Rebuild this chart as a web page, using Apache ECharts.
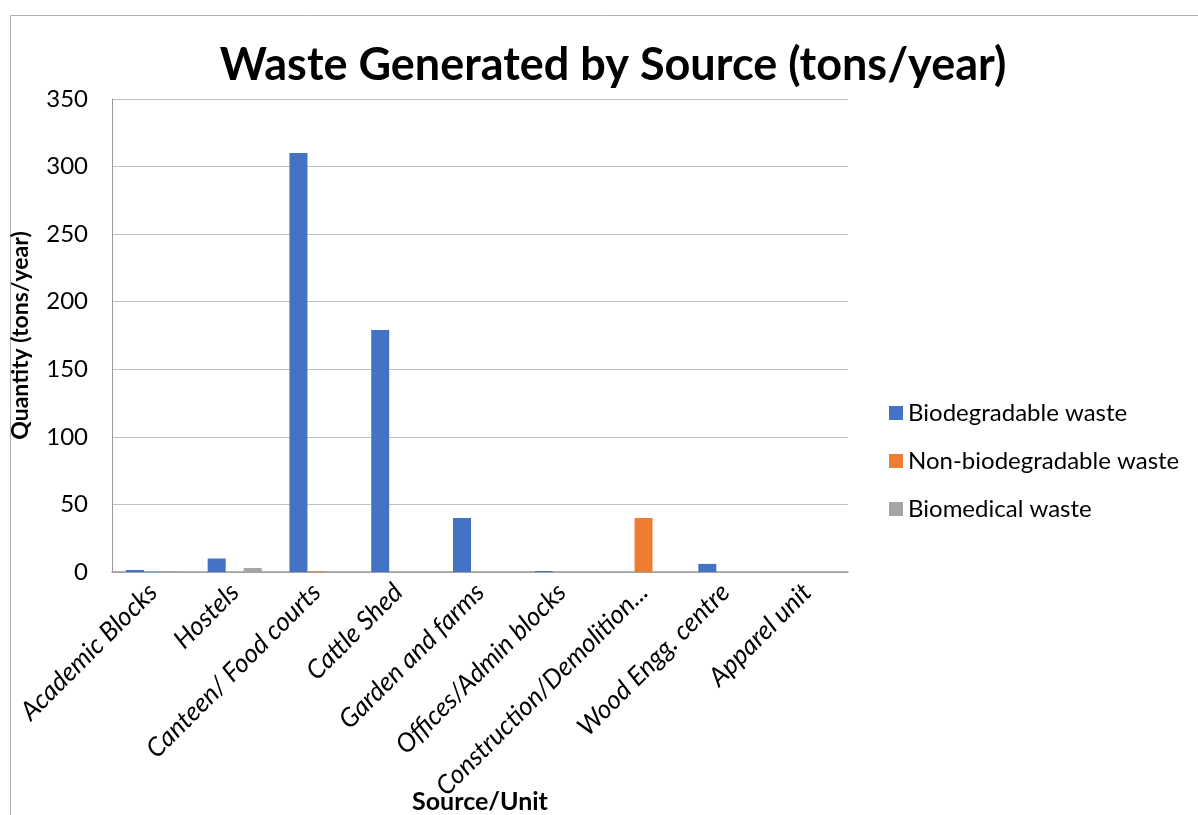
<!DOCTYPE html>
<html><head><meta charset="utf-8">
<script src="https://cdn.jsdelivr.net/npm/echarts@6/dist/echarts.min.js"></script>
<style>html,body{margin:0;padding:0;background:#fff}#c{width:1198px;height:815px}</style>
</head><body><div id="c"></div>
<script>
const categories = ["Academic Blocks","Hostels","Canteen/ Food courts","Cattle Shed","Garden and farms","Offices/Admin blocks","Construction/Demolition...","Wood Engg. centre","Apparel unit"];
const biodegradable = [1.5, 10, 310, 179, 40, 0.7, 0, 6, 0];
const nonBiodegradable = [0.5, 0, 0.5, 0, 0, 0, 40, 0, 0];
const biomedical = [0.5, 3, 0, 0, 0, 0, 0, 0, 0];
const yTicks = [0, 50, 100, 150, 200, 250, 300, 350];

const font = "Lato, 'Open Sans', sans-serif";
const chart = echarts.init(document.getElementById('c'));
chart.setOption({
  animation: false,
  graphic: [{type:'polyline', shape:{points:[[10.5,815],[10.5,15.5],[1198,15.5]]}, style:{stroke:'#b0b0b0', lineWidth:1, fill:null}}],
  title: {text: 'Waste Generated by Source (tons/year)', left: 608, top: 38, textAlign: 'center',
    textStyle: {fontFamily: font, fontWeight: 'bold', fontSize: 45, color: '#000'}},
  legend: {orient: 'vertical', left: 884, top: 396, itemGap: 24, itemWidth: 14, itemHeight: 14,
    icon: 'rect', textStyle: {fontFamily: font, fontSize: 24, color: '#000'},
    data: ['Biodegradable waste','Non-biodegradable waste','Biomedical waste']},
  grid: {left: 112, right: 350, top: 99, bottom: 243, containLabel: false, outerBoundsMode: 'none'},
  xAxis: {type: 'category', data: categories,
    name: 'Source/Unit', nameLocation: 'middle', nameGap: 217, nameMoveOverlap: false,
    nameTextStyle: {fontFamily: font, fontWeight: 'bold', fontSize: 25, color: '#000'},
    axisLine: {lineStyle: {color: '#9a9a9a', width: 1.5}}, axisTick: {show: false},
    axisLabel: {rotate: 45, interval: 0, fontFamily: font, fontStyle: 'italic', fontSize: 26, color: '#000', margin: 16}},
  yAxis: {type: 'value', min: 0, max: 350, interval: 50,
    name: 'Quantity (tons/year)', nameLocation: 'middle', nameGap: 80, nameMoveOverlap: false,
    nameTextStyle: {fontFamily: font, fontWeight: 'bold', fontSize: 23, color: '#000'},
    axisLine: {show: true, lineStyle: {color: '#9a9a9a'}}, axisTick: {show: false},
    axisLabel: {fontFamily: font, fontSize: 24, color: '#000', margin: 24,
      formatter: v => yTicks.includes(v) ? String(v) : ''},
    splitLine: {lineStyle: {color: '#bfbfbf'}}},
  series: [
    {name: 'Biodegradable waste', type: 'bar', data: biodegradable, barWidth: 18, barGap: '0%', itemStyle: {color: '#4472C4'}},
    {name: 'Non-biodegradable waste', type: 'bar', data: nonBiodegradable, barWidth: 18, itemStyle: {color: '#ED7D31'}},
    {name: 'Biomedical waste', type: 'bar', data: biomedical, barWidth: 18, itemStyle: {color: '#A5A5A5'}}
  ]
});
</script></body></html>
